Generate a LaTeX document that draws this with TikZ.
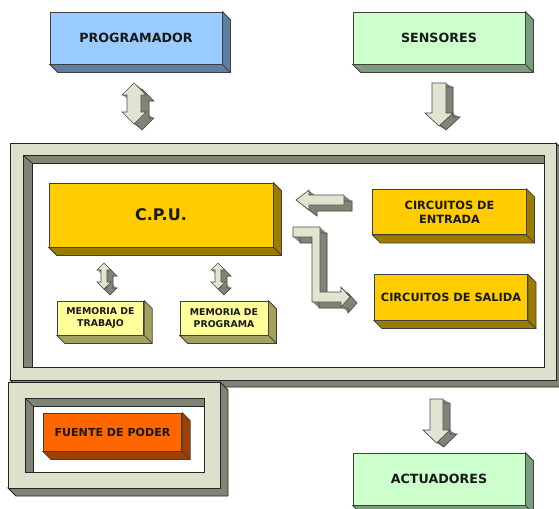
\documentclass[tikz,border=0pt]{standalone}
\usepackage{fontspec}
\setmainfont{DejaVu Sans}
\usepackage{tikz}
\usetikzlibrary{calc}
\definecolor{azulprog}{HTML}{99CCFF}
\definecolor{azullado}{HTML}{5E7EA2}
\definecolor{verdeio}{HTML}{CCFFCC}
\definecolor{verdelado}{HTML}{7C9C7C}
\definecolor{amarcpu}{HTML}{FFCC00}
\definecolor{amarlado}{HTML}{9C7C00}
\definecolor{memfill}{HTML}{FFFF99}
\definecolor{memlado}{HTML}{A2A25E}
\definecolor{naranja}{HTML}{FF6600}
\definecolor{naranjalado}{HTML}{A04000}
\definecolor{marco}{HTML}{DDE0CB}
\definecolor{marcolado}{HTML}{7F8576}
\definecolor{flechaclara}{HTML}{E0E4D0}
\tikzset{
  bloque/.style={draw=black!75, line width=0.6pt, align=center, inner sep=1pt,
                 text=black!90},
  grande/.style={bloque, minimum width=129pt, minimum height=39pt,
                 font=\fontsize{9.5}{11}\selectfont\bfseries},
  circ/.style={bloque, fill=amarcpu, minimum width=115pt, minimum height=34pt,
               font=\fontsize{8.5}{10.5}\selectfont\bfseries},
  mem/.style={bloque, fill=memfill, minimum width=66pt, minimum height=25.5pt,
              font=\fontsize{7}{8.5}\selectfont\bfseries},
  flechaside/.style={fill=marcolado, draw=black!70, line width=0.5pt},
  flechafront/.style={fill=flechaclara, draw=black!70, line width=0.5pt},
  marcoface/.style={fill=marco, draw=black!85, line width=0.7pt},
  marcodark/.style={fill=marcolado, draw=black!85, line width=0.7pt},
}
% side and bottom faces of a block node
\newcommand{\fondo}[2]{%
  \filldraw[fill=#2, draw=black!75, line width=0.6pt] (#1.north east) -- ++(8,8)
    -- ($(#1.south east)+(8,8)$) -- ($(#1.south west)+(8,8)$)
    -- (#1.south west) -- (#1.south east) -- cycle;
  \draw[black!75, line width=0.6pt] (#1.south east) -- ++(8,8);
}
% extruded block arrow: offset x, offset y, outline
\newcommand{\bloqueflecha}[3]{%
  \foreach \k in {1,...,8}{\fill[marcolado, shift={(\k*#1/8,\k*#2/8)}] #3;}
  \draw[flechaside, shift={(#1,#2)}] #3;
  \draw[flechafront] #3;
}

\begin{document}
\begin{tikzpicture}[x=0.75pt,y=-0.75pt]
  \path[use as bounding box, clip] (0,0) rectangle (559,508);
  \fill[white] (0,0) rectangle (559,508);

  % main frame
  \filldraw[marcodark] (556,143) -- (563,150) -- (563,387) -- (17,387) -- (10,380) -- (556,380) -- cycle;
  \filldraw[marcoface] (10,143) rectangle (556,380);
  \filldraw[fill=white, draw=black!85, line width=0.7pt] (23,155) rectangle (544,367);
  \filldraw[marcodark] (23,155) -- (544,155) -- (544,163) -- (32,163) -- (32,367) -- (23,367) -- cycle;
  \draw[black!85, line width=0.5pt] (23,155) -- (32,163);

  % power supply frame
  \filldraw[marcodark] (220,382) -- (228,390) -- (228,496) -- (16,496) -- (8,488) -- (220,488) -- cycle;
  \filldraw[marcoface] (8,382) rectangle (220,488);
  \filldraw[fill=white, draw=black!85, line width=0.7pt] (25,398) rectangle (204,472);
  \filldraw[marcodark] (25,398) -- (204,398) -- (204,406) -- (33,406) -- (33,472) -- (25,472) -- cycle;
  \draw[black!85, line width=0.5pt] (25,398) -- (33,406);

  % blocks
  \node[grande, fill=azulprog] (prog) at (136,38) {PROGRAMADOR};
  \fondo{prog}{azullado}
  \node[grande, fill=verdeio] (sens) at (439,38) {SENSORES};
  \fondo{sens}{verdelado}
  \node[grande, fill=verdeio] (act) at (439,479) {ACTUADORES};
  \fondo{act}{verdelado}
  \node[bloque, fill=amarcpu, minimum width=168pt, minimum height=48pt,
        font=\fontsize{12}{14}\selectfont\bfseries] (cpu) at (161,215) {C.P.U.};
  \fondo{cpu}{amarlado}
  \node[circ] (ent) at (449.5,212) {CIRCUITOS DE\\ENTRADA};
  \fondo{ent}{amarlado}
  \node[circ] (sal) at (451,297.5) {CIRCUITOS DE SALIDA};
  \fondo{sal}{amarlado}
  \node[mem, minimum width=65pt] (mtrab) at (100.5,318) {MEMORIA DE\\TRABAJO};
  \fondo{mtrab}{memlado}
  \node[mem] (mprog) at (224,318) {MEMORIA DE\\PROGRAMA};
  \fondo{mprog}{memlado}
  \node[bloque, fill=naranja, minimum width=104pt, minimum height=28.5pt,
        font=\fontsize{8.3}{10}\selectfont\bfseries] (fuente) at (112.5,432) {FUENTE DE PODER};
  \fondo{fuente}{naranjalado}

  % block arrows
  \bloqueflecha{8}{6}{(134,83) -- (146,95) -- (141,95) -- (141,112) -- (146,112) -- (134,124)
    -- (122,112) -- (127,112) -- (127,95) -- (122,95) -- cycle}
  \bloqueflecha{7}{4}{(432,83) -- (446,83) -- (446,113) -- (453,113) -- (439,126)
    -- (425,113) -- (432,113) -- cycle}
  \bloqueflecha{7}{4}{(430,399) -- (443,399) -- (443,430) -- (450,430) -- (436.5,443)
    -- (423,430) -- (430,430) -- cycle}
  \bloqueflecha{6}{6}{(104,263) -- (111,270) -- (107,270) -- (107,282) -- (111,282) -- (104,289)
    -- (97,282) -- (101,282) -- (101,270) -- (97,270) -- cycle}
  \bloqueflecha{6}{6}{(218,263) -- (225,270) -- (221,270) -- (221,282) -- (225,282) -- (218,289)
    -- (211,282) -- (215,282) -- (215,270) -- (211,270) -- cycle}
  \bloqueflecha{8}{6}{(296,200) -- (309,190) -- (309,195) -- (344,195) -- (344,205)
    -- (309,205) -- (309,210) -- cycle}
  \bloqueflecha{7}{6}{(293,227) -- (320,227) -- (320,292) -- (341,292) -- (341,287) -- (350,297)
    -- (341,307) -- (341,302) -- (312,302) -- (312,237) -- (293,237) -- cycle}
\end{tikzpicture}
\end{document}
